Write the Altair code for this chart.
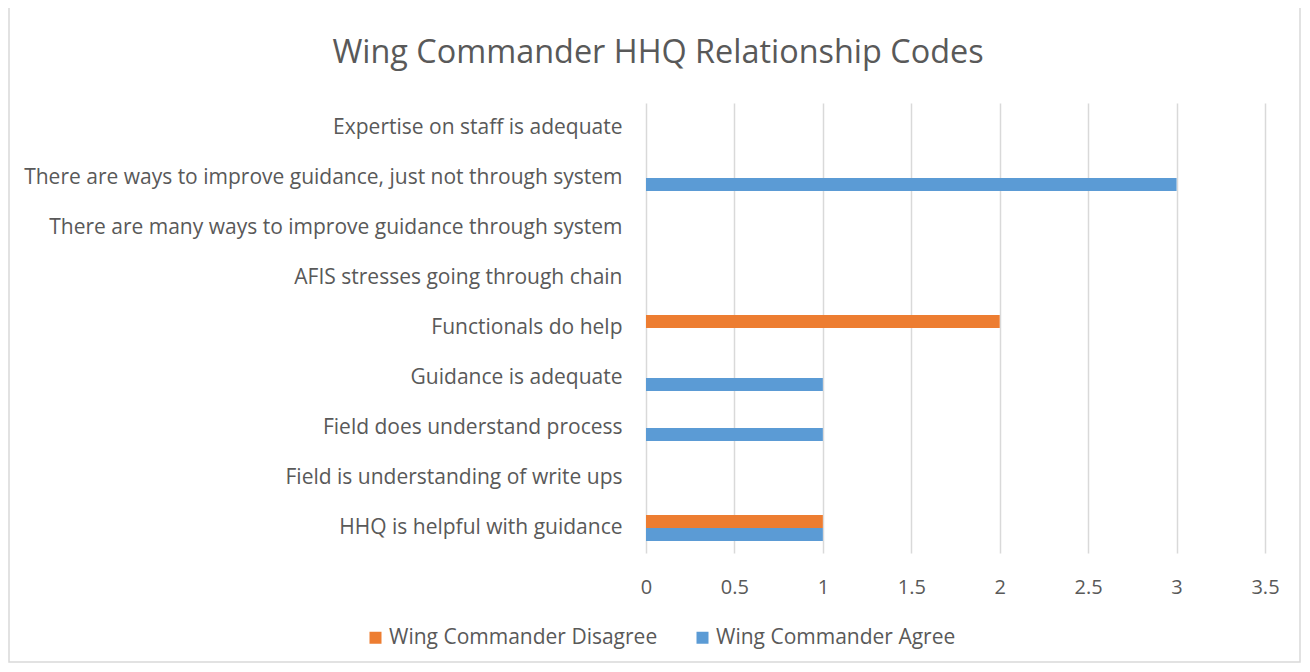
import altair as alt
import pandas as pd

title_text = "Wing Commander HHQ Relationship Codes"
categories = [
    "Expertise on staff is adequate",
    "There are ways to improve guidance, just not through system",
    "There are many ways to improve guidance through system",
    "AFIS stresses going through chain",
    "Functionals do help",
    "Guidance is adequate",
    "Field does understand process",
    "Field is understanding of write ups",
    "HHQ is helpful with guidance",
]
disagree = [0, 0, 0, 0, 2, 0, 0, 0, 1]
agree = [0, 3, 0, 0, 0, 1, 1, 0, 1]
series = ["Wing Commander Disagree", "Wing Commander Agree"]
colors = ["#ED7D31", "#5B9BD5"]
x_ticks = [0, 0.5, 1, 1.5, 2, 2.5, 3, 3.5]

rows = []
for c, d, a in zip(categories, disagree, agree):
    rows.append({"category": c, "series": series[0], "value": d})
    rows.append({"category": c, "series": series[1], "value": a})
df = pd.DataFrame(rows)

FONT = "Open Sans"
GRAY = "#595959"

bars = alt.Chart(df).mark_bar().encode(
    y=alt.Y("category:N", sort=categories, title=None,
            scale=alt.Scale(paddingInner=0.48, paddingOuter=0.24),
            axis=alt.Axis(labelFontSize=21, labelColor=GRAY, labelFont=FONT,
                          labelPadding=24, ticks=False, domain=False, labelLimit=800)),
    yOffset=alt.YOffset("series:N", sort=series, scale=alt.Scale(paddingInner=0, paddingOuter=0)),
    x=alt.X("value:Q", title=None,
            scale=alt.Scale(domain=[0, 3.5], nice=False),
            axis=alt.Axis(values=x_ticks, format="~g", labelFontSize=20, labelColor=GRAY,
                          labelFont=FONT, labelPadding=24, labelFlush=False,
                          ticks=False, domain=False,
                          gridColor="#D9D9D9", gridWidth=1.5)),
    color=alt.Color("series:N", sort=series,
                    scale=alt.Scale(domain=series, range=colors),
                    legend=alt.Legend(title=None, orient="none", direction="horizontal",
                                      legendX=-281, legendY=524,
                                      symbolType="square", symbolSize=144,
                                      symbolStrokeWidth=0, symbolOpacity=1,
                                      labelFontSize=21, labelColor=GRAY, labelFont=FONT,
                                      labelOffset=3, columnPadding=34, labelLimit=500)),
)

one = pd.DataFrame({"t": [title_text]})

border = alt.Chart(one).mark_rect(
    fill="transparent", stroke="#D9D9D9", strokeWidth=1.5
).encode(
    x=alt.value(-637), x2=alt.value(654),
    y=alt.value(-96), y2=alt.value(559),
)

title = alt.Chart(one).mark_text(
    font=FONT, fontSize=32.4, color=GRAY, align="center", baseline="alphabetic"
).encode(
    text="t:N", x=alt.value(12), y=alt.value(-40),
)

chart = alt.layer(border, title, bars).properties(
    width=619, height=450,
    autosize=alt.AutoSizeParams(type="none"),
    padding={"left": 638, "top": 95, "right": 37, "bottom": 111},
).configure_view(stroke=None)

chart.save("out.html", embed_options={"renderer": "svg", "actions": False})
